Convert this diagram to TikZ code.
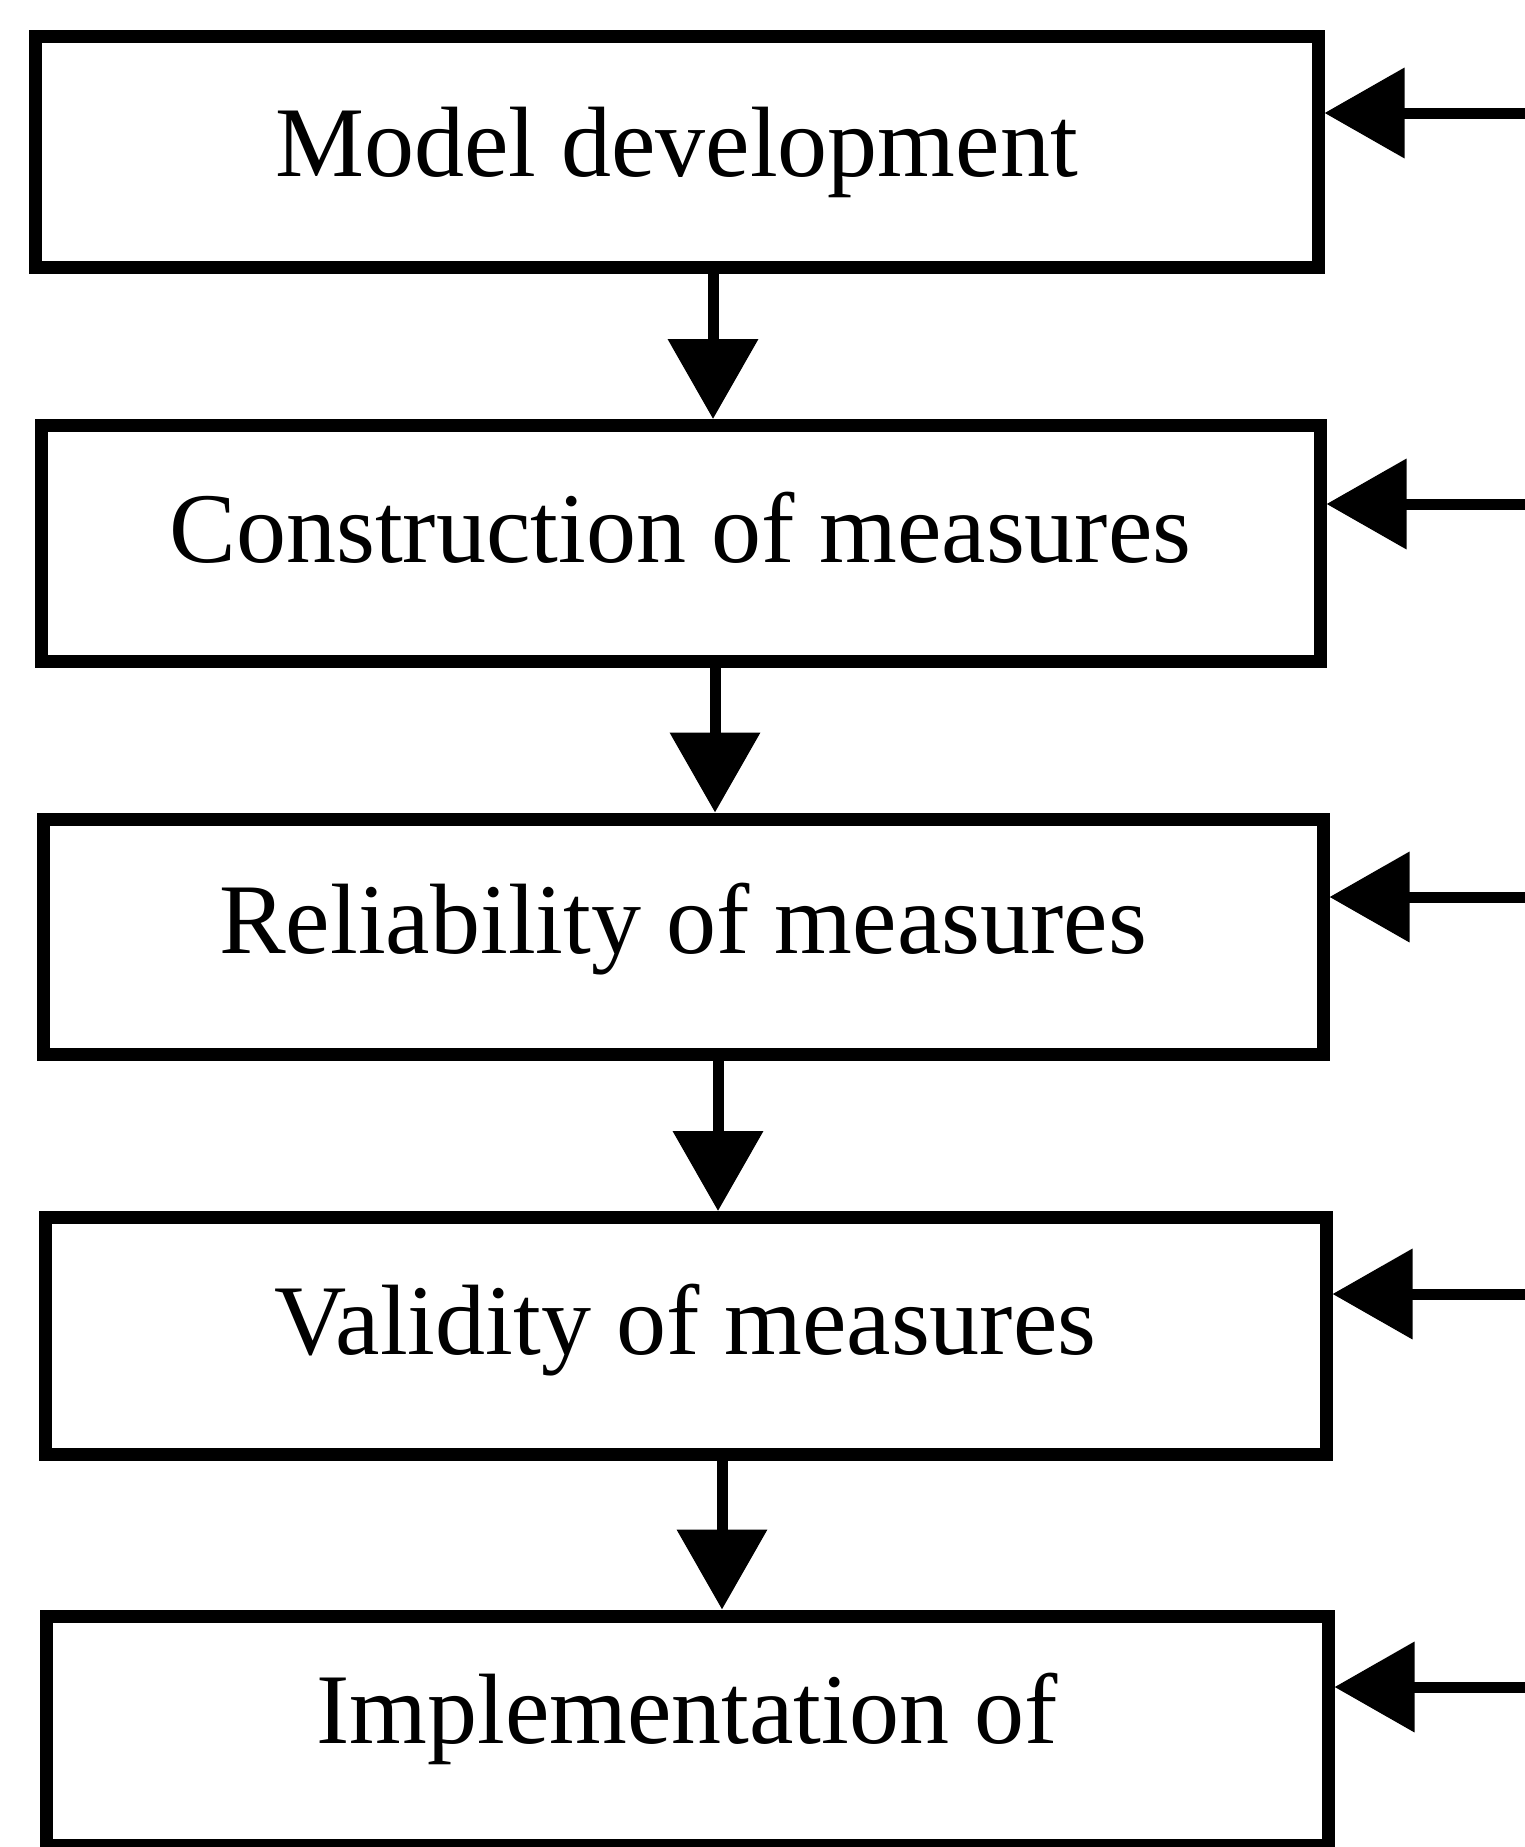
\documentclass[tikz,border=0pt]{standalone}
\usepackage{fontspec}
\setmainfont{Liberation Serif}
\usetikzlibrary{arrows.meta,calc}

\begin{document}
\begin{tikzpicture}[x=0.5pt,y=-0.5pt,
  stagebox/.style={draw=black, line width=6.5pt, rectangle, inner sep=0pt, fill=white},
  stagetext/.style={inner sep=0pt, anchor=base, font=\fontsize{50pt}{60pt}\selectfont},
  flow/.style={line width=5.5pt, -{Triangle[length=40pt,width=44pt]}}]

  \useasboundingbox (0,0) rectangle (1525,1847);

  % the five stages of the procedure
  \node[stagebox, minimum width=641.5pt, minimum height=115.5pt] (b1) at (676.5,151.5) {};
  \node[stagebox, minimum width=639.5pt, minimum height=118pt]   (b2) at (680.5,543.5) {};
  \node[stagebox, minimum width=640pt,   minimum height=117.5pt] (b3) at (683,936.5) {};
  \node[stagebox, minimum width=640.5pt, minimum height=118.5pt] (b4) at (685.5,1336) {};
  \node[stagebox, minimum width=641pt,   minimum height=114.5pt] (b5) at (687,1730.5) {};

  \node[stagetext] (t1) at ($(b1.north)+(0,147)$) {Model development};
  \node[stagetext] (t2) at ($(b2.north)+(0,143)$) {Construction of measures};
  \node[stagetext] (t3) at ($(b3.north)+(0,141)$) {Reliability of measures};
  \node[stagetext] (t4) at ($(b4.north)+(0,143)$) {Validity of measures};
  \node[stagetext] (t5) at ($(b5.north)+(0,134)$) {Implementation of};

  % downward links between consecutive stages
  \coordinate (d1) at (713,0);
  \coordinate (d2) at (715,0);
  \coordinate (d3) at (718,0);
  \coordinate (d4) at (722,0);
  \draw[flow] (b1.south -| d1) -- (b2.north -| d1);
  \draw[flow] (b2.south -| d2) -- (b3.north -| d2);
  \draw[flow] (b3.south -| d3) -- (b4.north -| d3);
  \draw[flow] (b4.south -| d4) -- (b5.north -| d4);

  % inputs entering each stage from the right
  \coordinate (r1) at (1525,113);
  \coordinate (r2) at (1525,504);
  \coordinate (r3) at (1525,897);
  \coordinate (r4) at (1525,1294);
  \coordinate (r5) at (1525,1687);
  \draw[flow] (r1) -- (r1 -| b1.east);
  \draw[flow] (r2) -- (r2 -| b2.east);
  \draw[flow] (r3) -- (r3 -| b3.east);
  \draw[flow] (r4) -- (r4 -| b4.east);
  \draw[flow] (r5) -- (r5 -| b5.east);
\end{tikzpicture}
\end{document}
